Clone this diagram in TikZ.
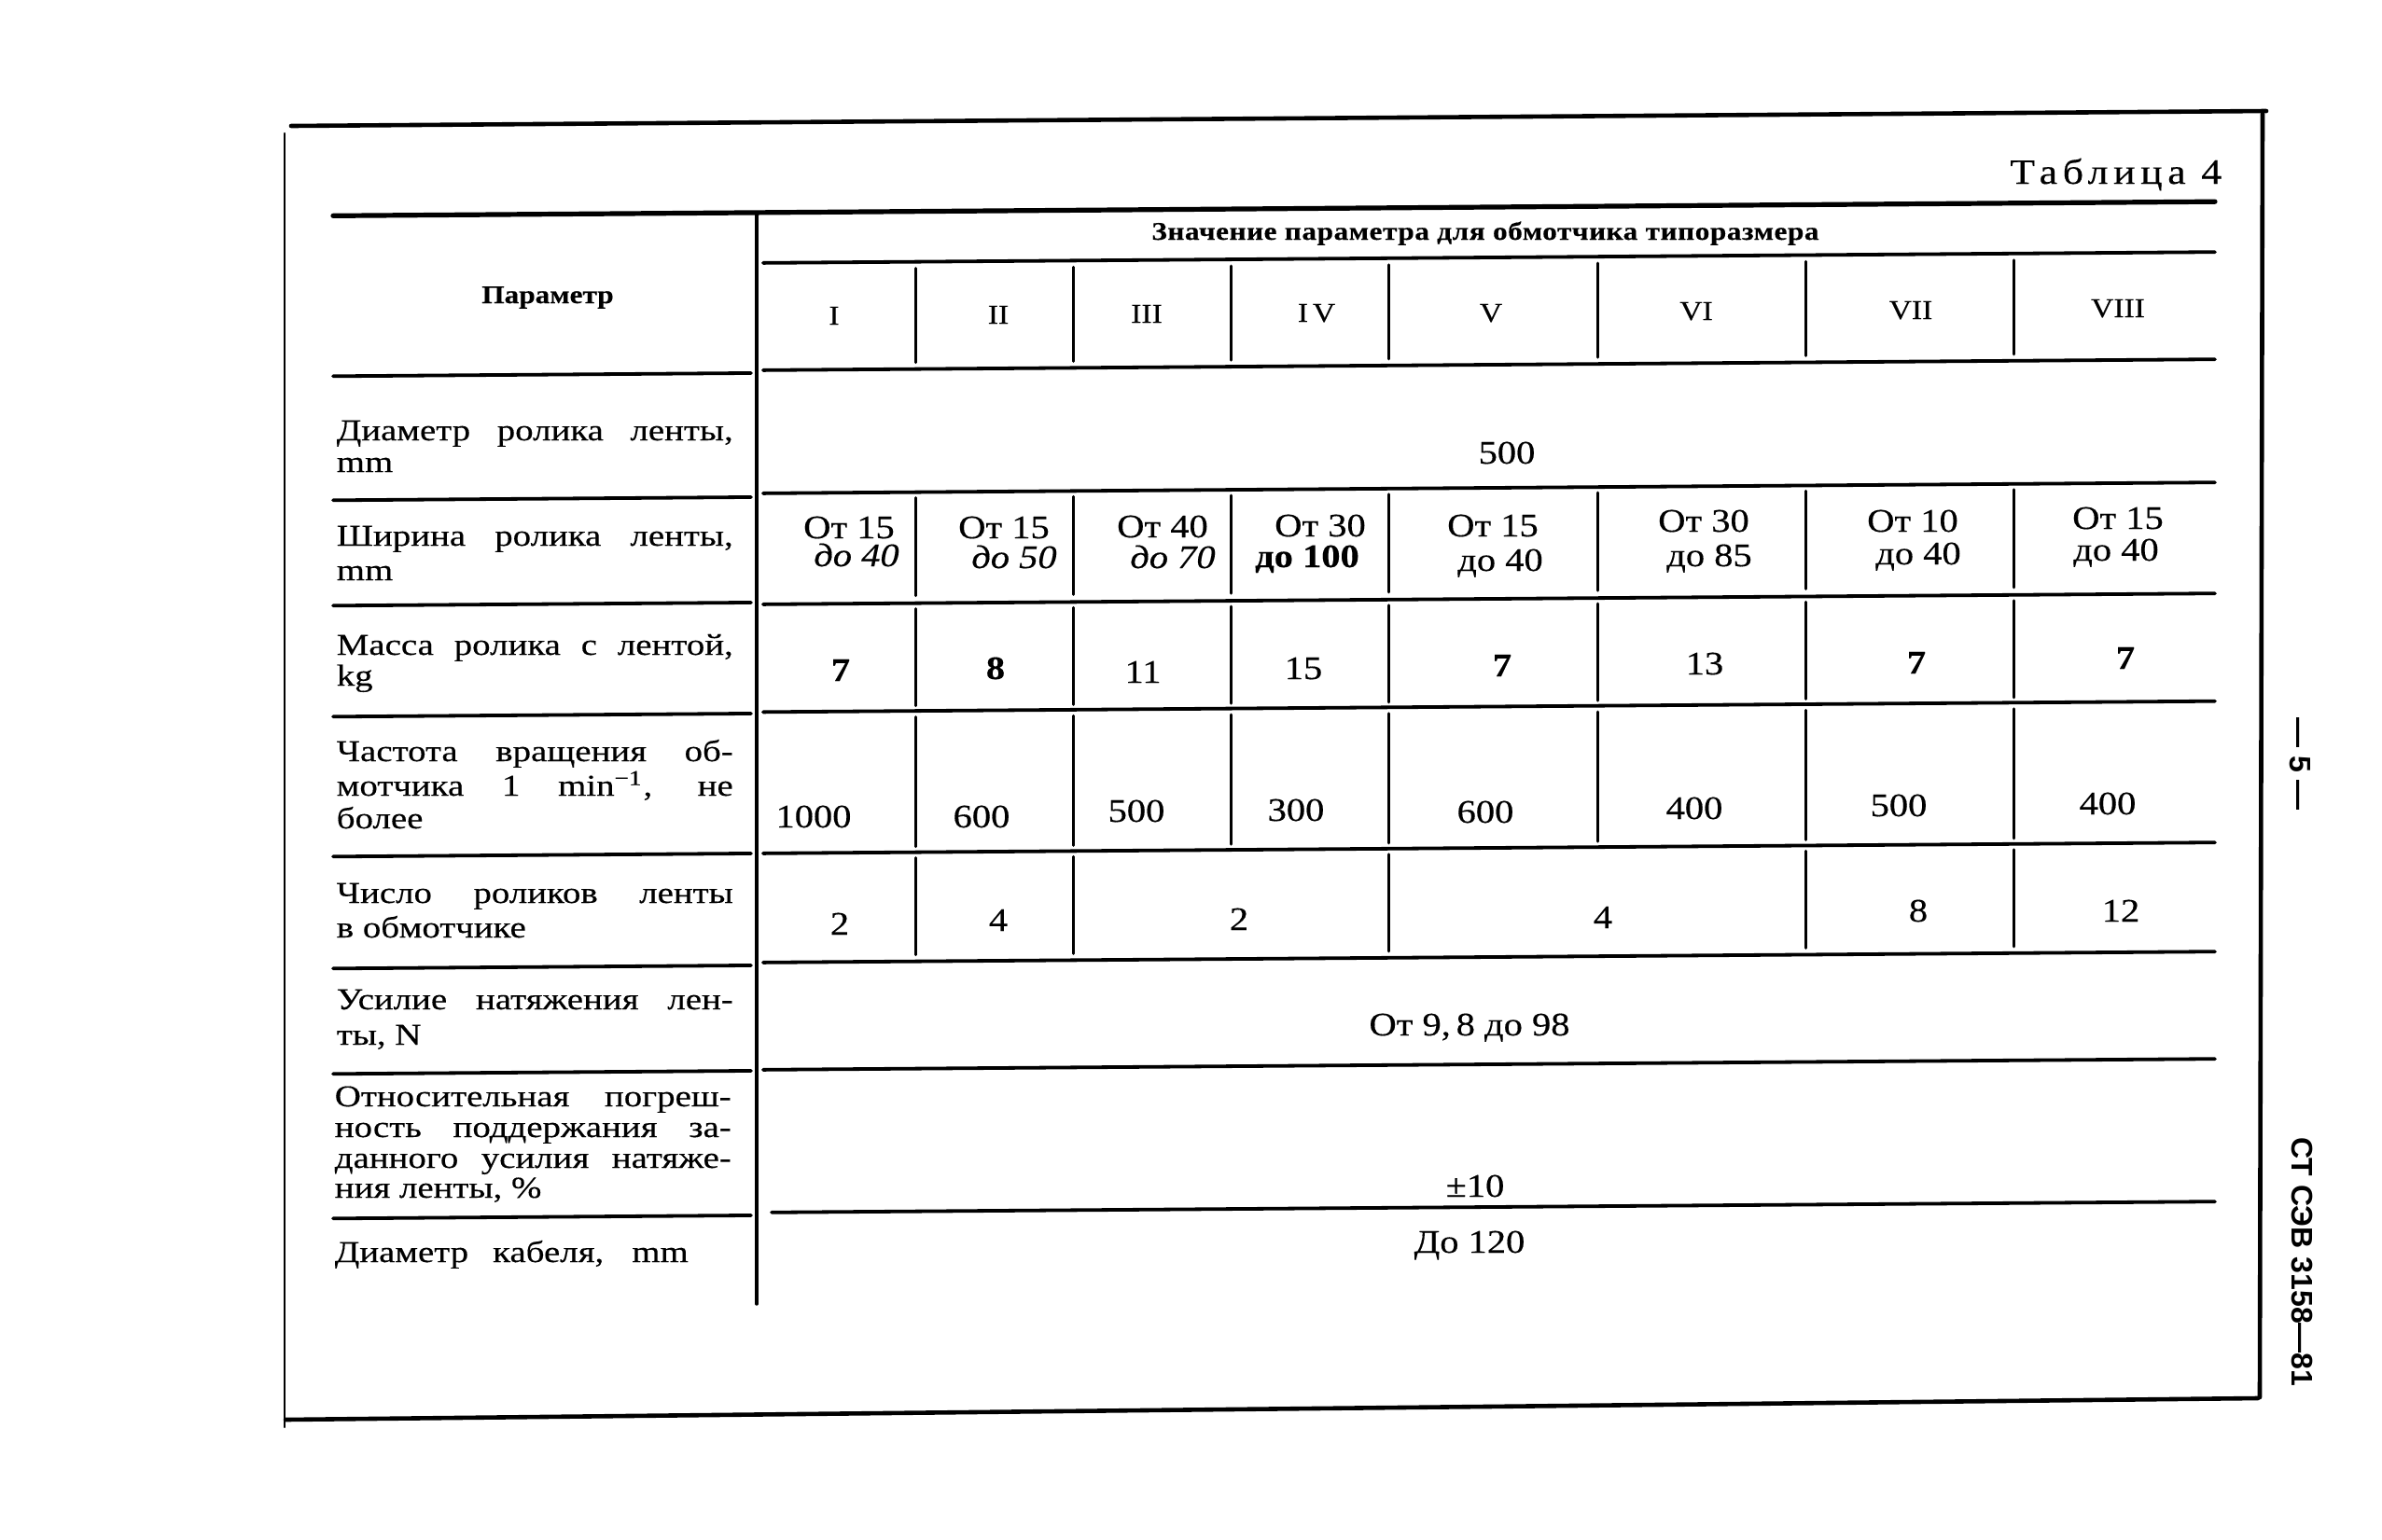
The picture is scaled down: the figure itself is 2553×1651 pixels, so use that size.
\documentclass[tikz,border=0pt]{standalone}
\usepackage{fontspec}
\setmainfont{Liberation Serif}[FakeStretch=1.15, FakeBold=0.35]
\newfontfamily\txtfont{Liberation Serif}[FakeStretch=1.2, FakeBold=0.35]
\newfontfamily\sidefont{Liberation Sans}
\newcommand\JL[1]{\makebox[106.25pt][s]{#1}}
\tikzset{
  rule/.style={line width=0.95pt},
  toprule/.style={line width=1.3pt},
  vrule/.style={line width=0.75pt},
  frame/.style={line width=1.15pt},
  thinframe/.style={line width=0.6pt},
  ptxt/.style={anchor=base west, inner sep=0pt, font=\txtfont\fontsize{8.1}{9}\selectfont},
  val/.style={anchor=base, inner sep=0pt, font=\fontsize{8.8}{9}\selectfont},
  valit/.style={val, font=\fontsize{8.8}{9}\selectfont\itshape},
  valbf/.style={val, font=\fontsize{8.8}{9}\selectfont\bfseries},
  rom/.style={anchor=base, inner sep=0pt, font=\fontsize{7.3}{8}\selectfont},
  hdr/.style={anchor=base, inner sep=0pt, font=\fontsize{6.8}{8}\selectfont\bfseries},
  side/.style={inner sep=0pt, rotate=-90, font=\sidefont\bfseries\fontsize{8}{9}\selectfont},
}
\begin{document}
\begin{tikzpicture}[x=0.25pt, y=-0.25pt, line cap=round]
\fill[white] (0,0) rectangle (2553,1651);
\useasboundingbox (0,0) rectangle (2553,1651);

% page frame
\draw[frame] (312,135) -- (2429,119);
\draw[frame] (2425,122) -- (2422,1498);
\draw[frame] (306,1522) -- (2420,1499);
\draw[thinframe] (305,143) -- (305,1530);

% table rules (slightly tilted like the scan)
\begin{scope}[yslant=0.0075]
  \draw[toprule] (357,234) -- (2374,234);
  \draw[rule] (818,288) -- (2374,288);
  \draw[rule] (357,406) -- (805,406);   \draw[rule] (818,403) -- (2374,403);
  \draw[rule] (357,539) -- (805,539);   \draw[rule] (818,535) -- (2374,535);
  \draw[rule] (357,652) -- (805,652);   \draw[rule] (818,654) -- (2374,654);
  \draw[rule] (357,771) -- (805,771);   \draw[rule] (818,769.5) -- (2374,769.5);
  \draw[rule] (357,921) -- (805,921);   \draw[rule] (818,921) -- (2374,921);
  \draw[rule] (357,1041) -- (805,1041); \draw[rule] (818,1038) -- (2374,1038);
  \draw[rule] (357,1154) -- (805,1154); \draw[rule] (818,1153) -- (2374,1153);
  \draw[rule] (357,1309) -- (805,1309); \draw[rule] (827,1306) -- (2374,1306);
  \draw[vrule, line width=0.9pt] (811,236) -- (811,1404);
  \foreach \cx in {981,1150,1319,1488,1712,1935,2158}{
    \draw[vrule] (\cx,295) -- (\cx,396);
    \draw[vrule] (\cx,541) -- (\cx,646);
    \draw[vrule] (\cx,660) -- (\cx,764);
    \draw[vrule] (\cx,776) -- (\cx,915);
  }
  \foreach \cx in {981,1150,1488,1935,2158}{
    \draw[vrule] (\cx,927) -- (\cx,1031);
  }
\end{scope}

% title and header
\node[anchor=base east, inner sep=0pt, font=\fontsize{9.5}{10}\selectfont\addfontfeatures{LetterSpace=15}] (title) at (2382,197) {Таблица 4};
\node[hdr] (par) at (587,325) {Параметр};
\node[hdr, font=\fontsize{6.8}{8}\selectfont\bfseries\addfontfeatures{LetterSpace=2}] (zn) at (1592,257) {Значение параметра для обмотчика типоразмера};
\node[rom] (c1) at (894,348) {I};
\node[rom] (c2) at (1070,347) {II};
\node[rom] (c3) at (1229,346) {III};
\node[rom] (c4) at (1411,345) {I\,V};
\node[rom] (c5) at (1598,345) {V};
\node[rom] (c6) at (1818,343) {VI};
\node[rom] (c7) at (2048,342) {VII};
\node[rom] (c8) at (2270,340) {VIII};

% parameter column
\node[ptxt] (r1a) at (360,472) {\JL{Диаметр ролика ленты,}};
\node[ptxt] (r1b) at (360,506) {mm};
\node[ptxt] (r2a) at (360,585) {\JL{Ширина ролика ленты,}};
\node[ptxt] (r2b) at (360,622) {mm};
\node[ptxt] (r3a) at (360,702) {\JL{Масса ролика с лентой,}};
\node[ptxt] (r3b) at (360,735) {kg};
\node[ptxt] (r4a) at (360,816) {\JL{Частота вращения об-}};
\node[ptxt] (r4b) at (360,853) {\JL{мотчика 1 min\textsuperscript{−1}, не}};
\node[ptxt] (r4c) at (360,888) {более};
\node[ptxt] (r5a) at (360,968) {\JL{Число роликов ленты}};
\node[ptxt] (r5b) at (360,1005) {в обмотчике};
\node[ptxt] (r6a) at (360,1082) {\JL{Усилие натяжения лен-}};
\node[ptxt] (r6b) at (360,1120) {ты, N};
\node[ptxt] (r7a) at (358,1186) {\JL{Относительная погреш-}};
\node[ptxt] (r7b) at (358,1219) {\JL{ность поддержания за-}};
\node[ptxt] (r7c) at (358,1252) {\JL{данного усилия натяже-}};
\node[ptxt] (r7d) at (358,1284) {ния ленты, \%};
\node[ptxt] (r8a) at (358,1353) {\makebox[94.75pt][s]{Диаметр кабеля, mm}};

% values
\node[val] (v1) at (1615,497) {500};

\node[val] (w1a) at (910,577) {От 15};   \node[valit] (w1b) at (918,607) {до 40};
\node[val] (w2a) at (1076,577) {От 15};  \node[valit] (w2b) at (1087,609) {до 50};
\node[val] (w3a) at (1246,576) {От 40};  \node[valit] (w3b) at (1257,609) {до 70};
\node[val] (w4a) at (1415,575) {От 30};  \node[valbf] (w4b) at (1401,608) {до 100};
\node[val] (w5a) at (1600,575) {От 15};  \node[val] (w5b) at (1608,612) {до 40};
\node[val] (w6a) at (1826,570) {От 30};  \node[val] (w6b) at (1832,607) {до 85};
\node[val] (w7a) at (2050,570) {От 10};  \node[val] (w7b) at (2056,605) {до 40};
\node[val] (w8a) at (2270,567) {От 15};  \node[val] (w8b) at (2268,601) {до 40};

\node[valbf] (m1) at (901,730) {7};
\node[valbf] (m2) at (1067,728) {8};
\node[val] (m3) at (1225,732) {11};
\node[val] (m4) at (1397,728) {15};
\node[valbf] (m5) at (1610,725) {7};
\node[val] (m6) at (1827,723) {13};
\node[valbf] (m7) at (2054,722) {7};
\node[valbf] (m8) at (2278,717) {7};

\node[val] (f1) at (872,887) {1000};
\node[val] (f2) at (1052,887) {600};
\node[val] (f3) at (1218,881) {500};
\node[val] (f4) at (1389,880) {300};
\node[val] (f5) at (1592,882) {600};
\node[val] (f6) at (1816,878) {400};
\node[val] (f7) at (2035,875) {500};
\node[val] (f8) at (2259,873) {400};

\node[val] (n1) at (900,1002) {2};
\node[val] (n2) at (1070,998) {4};
\node[val] (n3) at (1328,997) {2};
\node[val] (n4) at (1718,995) {4};
\node[val] (n5) at (2056,988) {8};
\node[val] (n6) at (2273,988) {12};

\node[val] (u1) at (1575,1110) {От 9,\,8 до 98};
\node[val] (e1) at (1581,1283) {±10};
\node[val] (d1) at (1575,1343) {До 120};

% side texts
\node[side] (pg) at (2465,819) {— 5 —};
\node[side] (std) at (2467,1353) {СТ СЭВ 3158—81};
\end{tikzpicture}
\end{document}
